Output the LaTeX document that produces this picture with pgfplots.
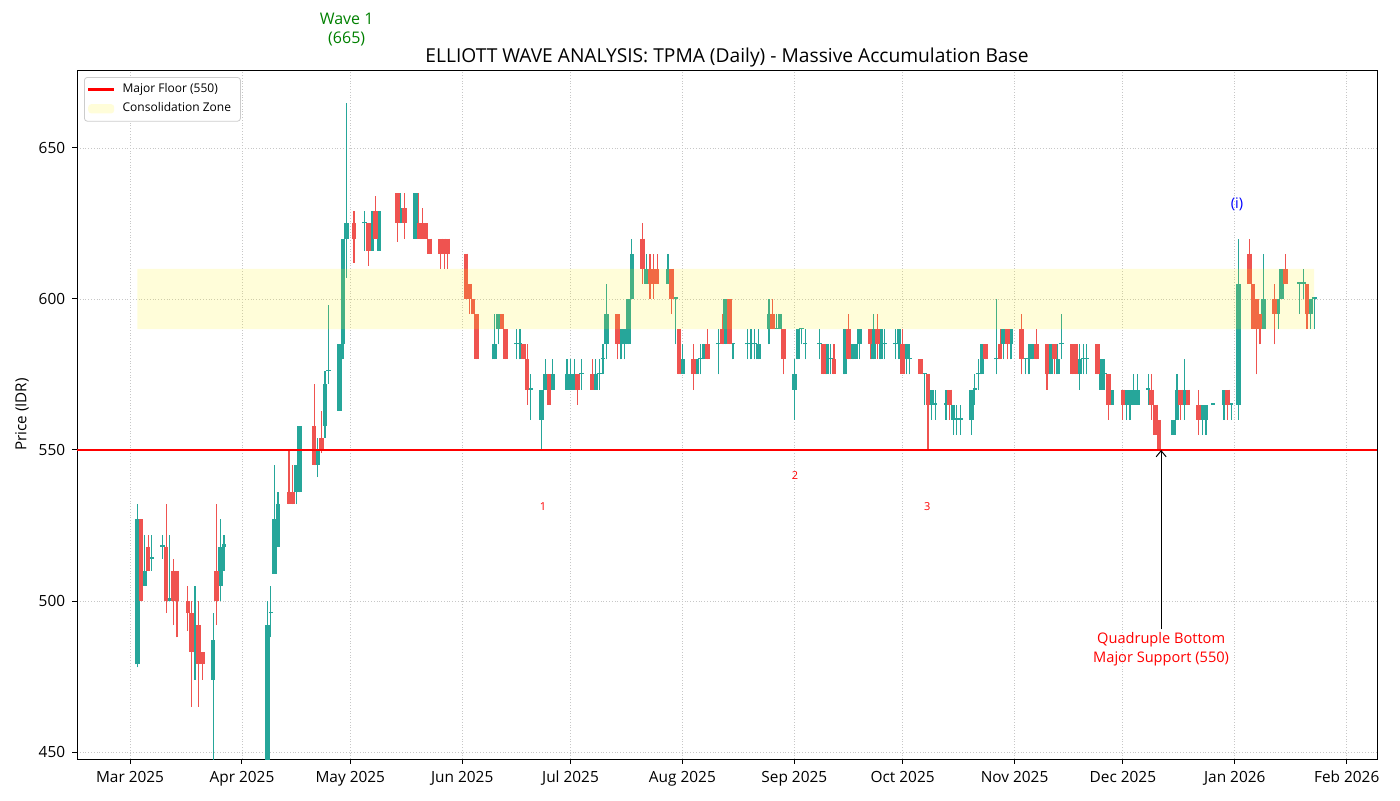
\documentclass[border=0pt]{standalone}
\usepackage{fontspec}
\setmainfont{Open Sans}
\usepackage{pgfplots}
\pgfplotsset{compat=1.18}
\usepackage{pgfplotstable}
\usetikzlibrary{arrows.meta}
\definecolor{cteal}{HTML}{26A69A}
\definecolor{cred}{HTML}{EF5350}
\definecolor{wavegreen}{HTML}{008000}
\pgfplotsset{legend image code/.code={\draw[#1] (0pt,0pt) -- (13pt,0pt);}}

% day 0 = 1 Mar 2025
\pgfplotstableread{
d O H L C
2 479 532 478 527
4 505 522 505 510
6 514 522 510 514.5
9 518 522 514 518.5
11 500 522 500 501
18 483 505 474 487
23 474 496 447 487
25 505 527 500 518
26 518 522 510 519
38 446 500 440 492
39 496 505 488 496.5
40 509 545 509 527
41 518 536 518 532
46 536 545 532 545
47 536 558 536 558
52 545 554 541 550
54 558 576 554 572
55 576 598 572 576.5
58 563 585 563 585
59 585 620 580 620
60 620 665 607 625
65 625 629 616 625.5
67 616 629 616 625
69 616 629 616 629
75 625 635 625 630
79 620 635 620 635
101 580 595 580 585
102 590 595 585 595
107 585 590 580 585.5
108 585 590 580 585.5
111 570 575 560 570.5
114 560 570 550 570
115 570 580 570 575
117 570 580 570 575
121 570 580 570 575
122 570 580 570 575
123 570 580 570 575
125 575 580 570 575.5
129 570 580 570 575
130 575 580 570 575.5
131 580 585 575 580.5
132 585 605 580 595
136 585 590 580 585.5
137 585 590 580 590
138 585 600 585 600
139 600 620 600 615
143 605 615 605 610
149 605 615 605 610
151 600 600 585 600.5
153 575 585 575 580
157 575 580 575 580
158 580 585 575 580.5
159 580 585 580 585
163 585 590 575 585.5
165 585 600 585 600
167 585 585 580 585.5
171 585 590 580 585.5
172 585 590 580 585.5
173 585 590 580 585.5
174 580 590 580 585
177 590 600 585 595
179 590 595 590 590.5
180 590 595 590 595
184 570 580 560 575
185 580 590 580 590
186 590 590 585 590.5
187 585 590 580 585.5
191 585 590 580 585.5
193 575 585 575 585
194 580 585 575 580.5
198 575 590 575 590
200 580 585 580 585
201 580 585 580 585
202 585 590 580 590
206 580 595 580 590
208 580 590 580 590
209 585 590 580 585.5
212 585 590 580 585.5
213 585 590 580 590
215 580 585 575 585
216 580 585 575 580.5
220 575 575 565 575.5
222 565 570 560 570
223 565 570 560 565.5
226 565 570 560 565.5
228 560 565 555 565
229 560 565 555 560.5
230 560 565 555 560.5
233 560 570 555 570
234 570 575 565 570.5
235 575 580 570 575.5
236 575 585 575 585
240 580 600 575 580.5
242 585 590 580 590
244 585 590 580 590
248 580 580 575 580.5
249 580 585 575 580.5
250 580 585 580 585
255 575 585 575 585
257 575 585 575 580
258 585 595 580 585.5
263 575 585 570 580
264 580 585 575 580.5
265 580 585 575 580.5
269 570 580 570 580
270 575 580 570 575.5
272 565 570 565 570
276 565 570 560 570
277 565 570 560 565.5
278 565 575 565 570
279 565 575 565 570
282 570 575 565 570.5
289 555 560 555 560
290 560 575 560 570
292 565 580 560 570
297 560 565 555 565
298 560 565 555 565
300 565 565.5 565 565.5
303 565 570 560 570
305 565 565.5 560 565.5
307 565 620 560 605
314 590 615 590 600
318 595 600 590 600
319 600 610 600 610
324 605 605 595 605.5
325 605 610 600 605.5
327 595 600 590 600
328 600 600 590 600.5
}\tealdata

\pgfplotstableread{
d O H L C
3 527 527 500 500
5 518 522 510 510
10 518 532 496 500
12 510 514 492 500
13 510 510 488 500
16 500 505 490 496
17 496 500 465 483
19 492 500 465 479
20 483 483 474 479
24 510 532 492 500
44 536 550 532 532
45 536 545 532 532
51 558 572 545 545
53 554 563 549 550
62 625 629 612 620
66 625 625 611 616
68 629 634 620 620
74 635 635 619 625
76 630 635 620 625
80 625 635 620 620
81 625 630 620 620
82 625 625 620 620
83 620 620 615 615
86 620 620 610 615
87 620 620 610 615
88 620 620 610 615
93 615 615 600 600
94 605 605 595 600
95 600 600 595 595
96 595 595 580 580
103 595 595 590 590
104 590 590 580 580
109 585 585 580 580
110 580 585 565 570
116 575 575 565 565
124 575 575 565 570
128 575 580 570 570
135 595 595 580 585
142 620 625 605 610
144 610 615 600 605
145 610 615 600 605
146 610 615 605 605
150 610 610 595 600
152 590 590 575 575
156 580 585 570 575
160 585 590 580 580
164 590 595 585 585
166 600 600 585 585
178 595 600 590 590
181 590 590 575 580
192 585 585 575 575
195 580 585 575 575
199 590 595 580 580
205 590 590 580 585
207 590 595 580 585
214 585 590 575 575
219 580 580 575 575
221 575 575 550 565
227 570 570 560 565
237 585 585 580 580
241 585 590 580 580
243 590 590 580 585
247 590 595 575 580
251 585 590 580 580
254 585 585 570 575
256 585 585 575 580
261 585 585 575 575
262 585 585 575 575
268 585 585 575 575
271 575 575 560 565
275 570 570 560 565
283 570 575 560 565
284 565 565 555 555
285 560 560 550 550
291 570 570 560 565
293 570 570 565 565
296 565 570 555 560
304 570 570 560 565
310 615 620 605 605
311 605 605 590 590
312 600 600 575 590
313 595 595 585 590
317 600 605 585 595
320 610 615 605 605
326 605 605 590 595
}\reddata

\begin{document}
\begin{tikzpicture}
\useasboundingbox (0,0) rectangle (700pt,400pt);
\begin{axis}[
  at={(38.5pt,20.5pt)}, anchor=south west,
  scale only axis, width=650pt, height=344.5pt,
  xmin=-14.7, xmax=345.4, ymin=447.7, ymax=675.8,
  xtick={0,31,61,92,122,153,184,214,245,275,306,337},
  xticklabels={Mar 2025,Apr 2025,May 2025,Jun 2025,Jul 2025,Aug 2025,Sep 2025,Oct 2025,Nov 2025,Dec 2025,Jan 2026,Feb 2026},
  ytick={450,500,550,600,650},
  tick pos=left, tick align=outside, major tick length=2.4pt,
  every tick/.style={black, line width=0.5pt},
  axis line style={line width=0.5pt},
  grid=major, grid style={densely dotted, black!22, line width=0.4pt},
  tick label style={font=\fontsize{7.7}{9}\selectfont},
  /pgf/number format/assume math mode=true,
  yticklabel style={/pgf/number format/1000 sep={}},
  ylabel={Price (IDR)},
  ylabel style={font=\fontsize{7.6}{9}\selectfont, at={(axis description cs:0,0.5)}, anchor=center, yshift=27.5pt},
  title={ELLIOTT WAVE ANALYSIS: TPMA (Daily) - Massive Accumulation Base},
  title style={font=\fontsize{9.6}{11}\selectfont, at={(0.5,1)}, anchor=base, yshift=-2pt},
  legend style={at={(0,1)}, anchor=north west, xshift=3.5pt, yshift=-3.5pt,
    font=\fontsize{6}{7}\selectfont, draw=black!20, rounded corners=1.5pt,
    inner sep=1.2pt, row sep=-0.6pt, nodes={inner xsep=3.5pt}},
  legend cell align=left,
]
% wicks and bodies
\addplot[forget plot, cteal, line width=0.6pt, mark=none, quiver={u=0, v=\thisrow{H}-\thisrow{L}}] table[x=d, y=L] {\tealdata};
\addplot[forget plot, cteal, line width=2.3pt, mark=none, quiver={u=0, v=\thisrow{C}-\thisrow{O}}] table[x=d, y=O] {\tealdata};
\addplot[forget plot, cred, line width=0.6pt, mark=none, quiver={u=0, v=\thisrow{H}-\thisrow{L}}] table[x=d, y=L] {\reddata};
\addplot[forget plot, cred, line width=2.3pt, mark=none, quiver={u=0, v=\thisrow{C}-\thisrow{O}}] table[x=d, y=O] {\reddata};
% floor
\addplot[red, line width=1.4pt, mark=none] coordinates {(-14.7,550) (345.4,550)};
\addlegendentry{Major Floor (550)}
% zone
\addplot[draw=none, fill=yellow, fill opacity=0.15, mark=none,
  legend image code/.code={\fill[yellow, fill opacity=0.15] (0pt,-2.3pt) rectangle (13pt,2.3pt);}]
  coordinates {(2,590) (328,590) (328,610) (2,610) (2,590)};
\addlegendentry{Consolidation Zone}
\coordinate (w1) at (axis cs:60,689.2);
\coordinate (wi) at (axis cs:306.6,631.4);
\coordinate (n1) at (axis cs:114.4,531.3);
\coordinate (n2) at (axis cs:184.2,541.5);
\coordinate (n3) at (axis cs:220.8,531.3);
\coordinate (qb) at (axis cs:285.6,484.0);
\coordinate (qa) at (axis cs:285.6,490.6);
\coordinate (qt) at (axis cs:285.6,550);
\end{axis}
\node[wavegreen, align=center, font=\fontsize{8}{9.5}\selectfont] at (w1) {Wave 1\\(665)};
\node[blue, font=\fontsize{7.3}{8}\selectfont] at (wi) {(i)};
\node[red, font=\fontsize{5.5}{6.5}\selectfont] at (n1) {1};
\node[red, font=\fontsize{5.5}{6.5}\selectfont] at (n2) {2};
\node[red, font=\fontsize{5.5}{6.5}\selectfont] at (n3) {3};
\node[red, align=center, font=\fontsize{7.3}{9.5}\selectfont] at (qb) {Quadruple Bottom\\Major Support (550)};
\draw[black, line width=0.5pt, -{Straight Barb[length=3pt,width=5pt]}] (qa) -- (qt);
\end{tikzpicture}
\end{document}
